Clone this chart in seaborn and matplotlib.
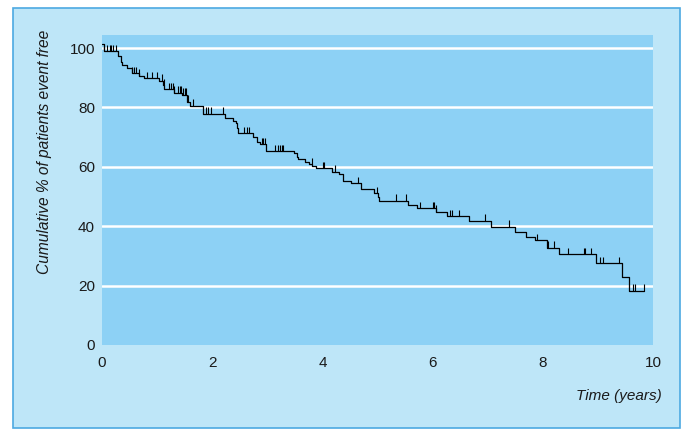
import numpy as np
import pandas as pd
import matplotlib
matplotlib.use("Agg")
import matplotlib.pyplot as plt
import seaborn as sns
from matplotlib import font_manager
from matplotlib.patches import Rectangle

# step times (years) and cumulative % event free after each step
event_t = [0.0, 0.03, 0.285, 0.345, 0.36, 0.45, 0.54, 0.68, 0.77, 1.03, 1.10, 1.13,
           1.31, 1.46, 1.54, 1.60, 1.84, 2.23, 2.38, 2.43, 2.45, 2.47, 2.74, 2.81,
           2.87, 2.98, 3.48, 3.53, 3.56, 3.68, 3.76, 3.82, 3.88, 4.17, 4.31, 4.38,
           4.51, 4.70, 4.94, 5.00, 5.03, 5.56, 5.71, 6.06, 6.27, 6.66, 7.06, 7.50,
           7.70, 7.86, 8.07, 8.30, 8.96, 9.43, 9.57]
event_s = [101.3, 99.0, 97.3, 95.4, 94.3, 93.2, 91.5, 90.7, 89.8, 89.0, 87.5, 86.2,
           85.0, 84.2, 81.9, 80.5, 77.8, 76.3, 75.5, 74.7, 73.0, 71.3, 70.1, 68.5,
           67.6, 65.3, 64.5, 63.4, 62.5, 61.7, 60.9, 60.4, 59.5, 58.4, 57.6, 55.3,
           54.4, 52.7, 51.1, 49.9, 48.5, 47.1, 46.0, 44.9, 43.4, 41.75, 39.8, 38.1,
           36.5, 35.2, 32.8, 30.6, 27.5, 23.0, 18.3]
last_t = 9.84

# censored observations (years)
censor_t = [0.04, 0.09, 0.15, 0.17, 0.20, 0.25, 0.54, 0.58, 0.61, 0.68, 0.82, 0.91,
            1.00, 1.09, 1.12, 1.22, 1.25, 1.28, 1.31, 1.38, 1.41, 1.44, 1.47, 1.50,
            1.53, 1.56, 1.65, 1.89, 1.93, 1.97, 2.20, 2.58, 2.63, 2.67, 2.90, 2.93,
            2.96, 3.14, 3.20, 3.23, 3.26, 3.29, 3.81, 4.01, 4.03, 4.23, 4.65, 4.99,
            5.34, 5.52, 5.77, 6.00, 6.03, 6.07, 6.32, 6.36, 6.48, 6.95, 7.39, 7.89,
            8.10, 8.20, 8.45, 8.74, 8.77, 8.87, 9.04, 9.10, 9.38, 9.64, 9.67, 9.84]

x_ticks = [0, 2, 4, 6, 8, 10]
y_ticks = [0, 20, 40, 60, 80, 100]

# pick a condensed font if there is one
names = {f.name for f in font_manager.fontManager.ttflist}
font = "Liberation Sans Narrow" if "Liberation Sans Narrow" in names else "Liberation Sans"

sns.set_style("white")
plt.rcParams["font.family"] = [font, "DejaVu Sans"]

outer = "#bee6f8"
inner = "#8dd1f5"

fig = plt.figure(figsize=(6.84, 4.32), dpi=100)
fig.patch.set_facecolor("white")
fig.patches.append(Rectangle((13 / 684, 4 / 432), 667 / 684, 420 / 432,
                             transform=fig.transFigure, facecolor=outer,
                             edgecolor="#4da9e2", linewidth=1.2, zorder=-5))

ax = fig.add_axes([102 / 684, 87 / 432, 551 / 684, 310 / 432])
ax.set_zorder(2)
ax.set_facecolor(inner)

# data frame for the step curve
df = pd.DataFrame({"t": event_t + [last_t], "s": event_s + [event_s[-1]]})
sns.lineplot(data=df, x="t", y="s", drawstyle="steps-post", estimator=None,
             color="black", linewidth=0.9, ax=ax, zorder=3)

# censor marks sit on the curve
idx = np.searchsorted(event_t, censor_t, side="right") - 1
lvl = np.array(event_s)[idx]
ax.vlines(censor_t, lvl, lvl + 2.2, color="black", linewidth=0.8, zorder=3)

ax.set_xlim(0, 10)
ax.set_ylim(0, 104.4)
ax.set_xticks(x_ticks)
ax.set_yticks(y_ticks)
ax.set_xticklabels([str(v) for v in x_ticks], fontsize=11)
ax.set_yticklabels([str(v) for v in y_ticks], fontsize=11)
for v in y_ticks[1:]:
    ax.axhline(v, color="white", linewidth=1.8, zorder=1)
ax.tick_params(axis="x", direction="in", length=5, width=1.2, color="white",
               pad=8, labelcolor="#1a1a1a")
ax.tick_params(axis="y", length=0, pad=5, labelcolor="#1a1a1a")
for sp in ax.spines.values():
    sp.set_visible(False)
ax.set_xlabel("")
ax.set_ylabel("")

fig.text(662 / 684, 1 - 396 / 432, "Time (years)", style="italic", fontsize=11,
         ha="right", va="center", color="#1a1a1a")
fig.text(45 / 684, 1 - 152 / 432, "Cumulative % of patients event free", style="italic",
         fontsize=11.2, rotation=90, ha="center", va="center", color="#1a1a1a")

fig.savefig("out.png", dpi=100)
